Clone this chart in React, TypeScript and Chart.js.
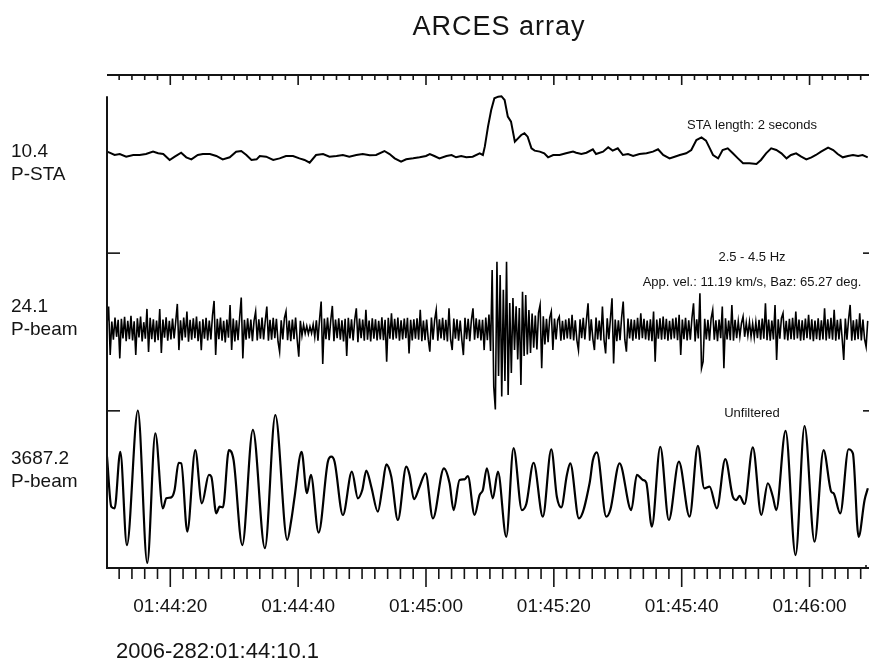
import { useEffect, useRef } from 'react';
import { Chart, registerables } from 'chart.js';

Chart.register(...registerables);

// ---- time axis (seconds after 01:44:00) ----
const T0 = 10.1;
const X_MAX = 129.3;
const MINOR_STEP = 2;
const majorTicks = [20, 40, 60, 80, 100, 120];
const majorLabels = ['01:44:20', '01:44:40', '01:45:00', '01:45:20', '01:45:40', '01:46:00'];
const startLabel = '2006-282:01:44:10.1';
const title = 'ARCES array';

// ---- trace labels ----
const traceScales = ['10.4', '24.1', '3687.2'];
const traceNames = ['P-STA', 'P-beam', 'P-beam'];
const annotations = ['STA length: 2 seconds', '2.5 - 4.5 Hz', 'App. vel.: 11.19 km/s, Baz: 65.27 deg.', 'Unfiltered'];

// ---- P-STA trace ----
const staTimes = [
  10.1, 10.5, 11.3, 12.1, 13.1, 14.2, 15.2, 16.2, 17.3, 18.1,
  18.9, 19.9, 20.7, 21.7, 22.5, 23.3, 24.3, 25.1, 26.2, 27.2,
  28.2, 29.3, 30.3, 31.1, 31.9, 32.7, 33.5, 34.0, 35.0, 36.1,
  37.1, 38.1, 39.2, 40.2, 41.0, 41.8, 42.8, 43.9, 44.9, 46.0,
  47.0, 48.0, 49.1, 50.1, 51.2, 52.2, 53.5, 54.3, 55.1, 56.1,
  56.9, 58.0, 59.0, 60.0, 60.6, 61.3, 62.1, 63.2, 64.0, 64.7,
  65.5, 66.3, 67.3, 68.4, 68.9, 69.2, 69.7, 70.2, 70.7, 71.3,
  71.8, 72.3, 72.8, 73.3, 73.9, 74.4, 74.9, 75.4, 75.9, 76.5,
  77.0, 77.8, 78.5, 79.1, 79.9, 80.9, 81.9, 83.0, 83.5, 84.3,
  85.1, 86.1, 86.6, 87.7, 88.5, 89.2, 90.0, 90.8, 91.6, 92.4,
  93.4, 94.5, 95.5, 96.3, 97.1, 98.1, 98.9, 99.7, 100.7, 101.5,
  102.3, 103.1, 103.8, 104.4, 104.9, 105.7, 106.4, 107.2, 108.0, 108.8,
  109.6, 110.6, 111.7, 112.4, 113.2, 114.0, 114.8, 115.6, 116.4, 117.1,
  117.9, 118.7, 119.5, 120.3, 121.0, 121.8, 122.9, 123.7, 124.4, 125.2,
  126.0, 126.8, 127.6, 128.3, 129.1,
];
const staValues = [
  2.48, 2.33, 2.00, 2.14, 1.76, 2.00, 2.00, 2.14, 2.48, 2.24,
  2.14, 1.29, 1.76, 2.33, 1.67, 1.38, 2.00, 2.14, 2.14, 1.86,
  1.38, 1.67, 2.48, 2.57, 2.00, 1.29, 1.38, 1.86, 1.76, 1.29,
  1.52, 1.86, 1.86, 1.52, 1.29, 0.90, 2.00, 2.14, 1.76, 1.86,
  2.00, 1.76, 2.00, 2.14, 1.95, 2.00, 2.57, 2.14, 1.52, 1.05,
  1.38, 1.52, 1.67, 1.86, 2.14, 1.86, 1.52, 1.86, 2.00, 1.67,
  1.86, 1.67, 1.76, 2.24, 2.00, 3.19, 6.05, 8.43, 10.10, 10.33,
  10.40, 9.86, 7.48, 6.76, 3.90, 4.38, 4.86, 5.10, 4.62, 2.95,
  2.62, 2.48, 2.24, 1.67, 2.00, 2.00, 2.24, 2.48, 2.33, 2.14,
  2.33, 2.81, 2.14, 2.48, 3.10, 2.62, 2.95, 2.00, 2.14, 1.86,
  2.14, 2.24, 2.48, 2.81, 2.00, 1.52, 1.76, 2.00, 2.24, 2.71,
  4.14, 4.52, 4.05, 2.95, 2.00, 1.52, 2.71, 2.95, 2.24, 1.52,
  0.81, 0.81, 0.71, 1.29, 2.24, 2.95, 2.71, 2.24, 1.52, 2.00,
  2.24, 1.76, 1.38, 1.67, 2.00, 2.48, 3.05, 2.71, 2.14, 1.67,
  1.86, 2.00, 1.86, 2.00, 1.67,
];

// ---- filtered P-beam (2.5-4.5 Hz), one value every BEAM_DT s from T0 ----
const BEAM_DT = 0.25;
const beamValues = [
  1.5, 6.9, -7.7, 2.4, -3.1, 3.6, -2.2, 2.9, -8.7, 3.2, -2.7, 3.8, -3.5, 2.6, -2.9, 4.1, -3.3, 2.5, -7.7, 3.4,
  -2.4, 3.9, -3.6, 2.2, -2.8, 6.2, -6.8, 3.5, -2.9, 3.1, -3.8, 2.7, -3.2, 6.2, -7.1, 3.0, -2.5, 3.7, -3.4, 2.6,
  -3.0, 3.3, -2.7, 2.4, 7.7, -6.2, 2.8, -3.3, 3.6, -2.4, 5.4, -3.7, 2.9, -3.1, 3.4, -2.6, 3.9, -3.5, 2.5, -6.2,
  3.1, -2.8, 3.5, -3.3, 2.7, -3.0, 4.2, 8.6, -7.7, 3.2, -2.9, 3.6, -3.4, 2.6, -3.9, 3.0, -2.5, 7.4, -6.2, 3.3,
  -3.6, 2.8, -3.2, 3.7, 9.6, -8.7, 2.9, -3.1, 3.4, -2.7, 3.0, -3.5, 2.6, 5.4, -3.3, 3.1, -2.8, 3.6, -3.0, 2.5,
  6.9, -3.4, 2.9, -3.1, 3.5, -2.6, 3.2, -3.6, -6.7, 2.8, -3.0, 3.4, 5.4, -3.2, 2.7, -3.5, 3.0, -2.9, 3.6, -3.1,
  -8.2, 2.6, -1.8, 1.4, -1.2, 1.0, -1.3, 0.9, -1.1, 1.5, -2.2, 2.8, -3.4, 3.1, 8.4, -10.4, 3.3, -2.9, 3.6, -3.2,
  2.7, 7.1, -3.5, 3.0, -2.6, 3.4, -3.1, 2.8, -3.6, 3.2, -8.0, 3.5, -2.7, 3.1, -3.3, 2.9, 6.4, -3.8, 3.3, -2.6,
  3.0, -3.4, 5.9, -3.1, 2.7, -3.6, 3.4, -2.8, 3.1, -3.3, 2.6, -3.0, 3.7, -3.2, 2.9, -9.7, 3.5, -2.8, 4.9, -3.1,
  3.2, -2.7, 3.6, -3.4, 2.8, -3.0, 3.3, -2.6, 3.5, -7.2, 2.9, -3.3, 3.1, -2.8, 3.4, -3.1, 5.9, -3.5, 2.7, -3.2,
  3.0, -2.9, -6.7, 3.6, -3.1, 2.8, 5.9, -3.4, 3.1, -2.7, 3.5, -3.2, 2.9, -3.6, 6.4, -3.0, -6.2, 3.3, -2.8, 3.1,
  -3.4, 2.7, -3.0, -7.7, 3.5, -2.9, 3.2, -3.5, 2.8, 6.4, -3.1, 3.4, -2.6, 3.0, -3.3, 2.9, -6.2, 3.6, -3.2, 4.5,
  -6.5, 17.9, -17.2, -24.1, 20.4, -14.0, 16.4, -20.2, 12.0, -15.5, 20.4, -19.7, 8.0, -13.1, 9.5, -6.2, 7.0, -9.0, 6.5, -16.7,
  11.4, -8.0, 10.4, -7.5, 5.9, -7.1, 4.8, -5.5, 4.2, -6.0, 5.0, 7.4, -11.7, 4.0, -4.5, 3.2, -3.8, 3.5, 5.4, -6.2,
  3.3, -3.0, 2.8, 3.9, -3.4, 2.6, -3.1, 3.0, -2.7, 3.4, -2.9, 4.4, -3.3, 2.8, -3.2, -6.2, 3.1, -2.6, 3.5, -3.0,
  2.9, 7.9, -3.4, 3.1, -2.8, -6.2, 3.6, -3.0, 2.7, -3.3, 6.9, -3.1, -7.2, 3.4, -2.9, 3.2, 9.4, -10.2, 3.0, -3.5,
  2.8, -3.2, 3.6, 8.4, -3.0, -6.7, 3.3, -2.7, 3.1, -3.4, 2.9, -2.8, 3.5, -3.1, 4.9, -2.6, 3.2, -3.0, 2.7, -3.3,
  3.1, -3.5, 5.4, -9.7, 3.0, -2.8, 3.4, -3.1, 3.9, -2.9, 3.2, -3.4, 2.6, -3.0, 3.3, -2.7, 3.6, -3.2, 4.4, -7.7,
  3.0, -2.9, 3.5, -3.3, 2.8, -3.1, 3.4, 7.9, -3.6, 3.1, -2.7, 10.9, -11.7, -9.7, 3.2, -3.0, 2.9, -3.4, 3.3, 5.9,
  -3.1, 2.8, -3.5, 3.0, -2.6, 6.9, -11.7, 3.4, -3.0, 2.7, -3.2, 7.4, -3.4, 2.9, -2.6, 2.4, -2.1, 1.9, 3.9, -2.2,
  2.0, -1.8, 2.3, -2.1, 1.7, -2.4, 2.2, -2.6, 2.9, -3.1, 3.3, -2.8, 7.9, -3.2, 3.0, -3.4, 2.7, -3.0, 7.4, -9.2,
  3.1, -2.8, 3.4, 4.9, -3.0, 2.6, -3.3, 3.2, -2.9, 3.5, -3.1, 5.4, -2.7, 3.0, -3.4, 2.8, -3.2, 3.3, -2.6, 4.4,
  -3.0, 3.1, -3.5, 2.7, -2.9, 3.4, -3.2, 2.8, -3.0, 6.4, -3.3, 3.1, -2.8, 3.5, -3.1, 5.9, -3.4, 2.9, -3.0, 3.2,
  -2.7, -9.2, 3.3, -3.1, 3.0, 7.4, -3.4, 2.8, -3.2, 3.1, -2.9, 4.9, -3.3, 3.0, -2.8, -5.2, 2.6,
];
const beamBandEdges = [23.0, -24.5];

// ---- unfiltered P-beam ----
const rawTimes = [
  10.10, 10.77, 11.29, 12.18, 13.21, 14.93, 16.40, 17.66, 18.84, 19.38,
  20.16, 20.67, 21.30, 21.72, 22.66, 23.91, 24.94, 26.04, 26.42, 27.20,
  27.71, 28.23, 29.17, 29.90, 31.26, 32.92, 34.80, 36.43, 38.30, 38.93,
  39.45, 40.54, 41.37, 41.99, 43.20, 44.65, 45.19, 45.70, 47.00, 48.41,
  49.35, 50.03, 50.66, 51.44, 52.47, 53.16, 53.79, 54.57, 55.60, 56.92,
  57.43, 58.11, 59.00, 59.94, 61.08, 62.80, 63.69, 64.32, 65.25, 66.04,
  66.55, 67.60, 68.38, 68.90, 69.52, 70.46, 71.25, 72.56, 73.70, 75.00,
  75.69, 76.83, 78.28, 79.60, 80.47, 81.16, 82.04, 82.57, 83.92, 85.59,
  86.11, 86.73, 88.20, 88.83, 90.28, 92.11, 92.99, 93.93, 94.46, 95.33,
  96.65, 97.99, 99.56, 101.23, 102.53, 103.53, 104.36, 105.50, 106.82, 108.00,
  108.54, 109.05, 109.83, 111.13, 112.45, 113.48, 114.26, 114.79, 116.25, 117.81,
  119.22, 120.78, 122.19, 123.40, 123.76, 124.80, 126.10, 126.78, 127.67, 128.61,
  129.12,
];
const rawValues = [
  1460, -950, -1030, 1700, -2800, 3687.2, -3660, 2590, -1030, -545,
  -500, -145, 1170, 1140, -2150, 1780, -790, 580, 500, -1270,
  -950, -980, 1780, 1300, -2800, 2750, -2950, 3470, -2550, -1590,
  -470, 1700, -300, 580, -2200, 1220, 1460, 1220, -1350, 740,
  -545, -145, 790, 15, -1190, -63, 1090, 500, -1590, 980,
  580, -590, 15, 660, -1510, 900, 180, -1110, 340, 370,
  530, -1350, -390, -145, 900, -545, 740, -2400, 1870, -1110,
  -820, 1170, -1430, 1820, -470, -980, 580, 1140, -1510, 180,
  1300, 1670, -1430, -1110, 1140, -1110, 580, 340, 210, -1910,
  1940, -1590, 1220, -1430, 1980, -63, 15, -1030, 1340, -470,
  -630, -430, -820, 1910, -1350, 180, -470, -1110, 2710, -3280,
  2940, -2640, 1780, -230, -300, -1270, 1820, 1620, -2400, -630,
  -63,
];

// ---- layout (pixels) ----
const W = 869;
const H = 661;
const AREA = { left: 107, top: 75, right: 869, bottom: 568 };
const FONT = '"Liberation Sans", Arial, Helvetica, sans-serif';
const INK = '#141414';

// Each trace gets its own y scale: zero line pixel and pixels per unit.
function bandScale(zeroPx: number, pxPerUnit: number) {
  const h = AREA.bottom - AREA.top;
  const min = -(AREA.bottom - zeroPx) / pxPerUnit;
  return { min, max: min + h / pxPerUnit };
}

const seismoFrame = {
  id: 'seismoFrame',
  afterDraw(chart: any) {
    const { ctx, chartArea: a, scales } = chart;
    const x = scales.x;
    const yA = scales.yA;
    const yB = scales.yB;
    ctx.save();
    ctx.strokeStyle = INK;
    ctx.lineCap = 'butt';
    const seg = (x1: number, y1: number, x2: number, y2: number) => {
      ctx.beginPath();
      ctx.moveTo(x1, y1);
      ctx.lineTo(x2, y2);
      ctx.stroke();
    };
    // axis lines
    ctx.lineWidth = 2;
    seg(a.left, a.top, a.right, a.top);
    seg(a.left - 1, a.bottom, a.right, a.bottom);
    const leftTop = yA.getPixelForValue(Math.max(...staValues));
    seg(a.left, leftTop, a.left, a.bottom);
    // time ticks
    ctx.lineWidth = 1.6;
    for (let t = Math.ceil(T0 / MINOR_STEP) * MINOR_STEP; t <= X_MAX; t += MINOR_STEP) {
      const px = x.getPixelForValue(t);
      const major = majorTicks.includes(t);
      seg(px, a.top, px, a.top + (major ? 10 : 5));
      seg(px, a.bottom, px, a.bottom + (major ? 19 : 11));
    }
    // band separators
    ctx.lineWidth = 1.6;
    beamBandEdges.forEach((v) => {
      const py = yB.getPixelForValue(v);
      seg(a.left, py, a.left + 13, py);
      seg(a.right - 6, py, a.right, py);
    });
    seg(a.right - 3, a.bottom - 3, a.right - 3, a.bottom);

    // texts
    ctx.fillStyle = INK;
    // title
    ctx.font = `27px ${FONT}`;
    ctx.textAlign = 'center';
    ctx.textBaseline = 'alphabetic';
    (ctx as any).letterSpacing = '1px';
    ctx.fillText(title, 499, 35);
    (ctx as any).letterSpacing = '0px';
    ctx.textBaseline = 'middle';
    // time labels
    ctx.font = `19px ${FONT}`;
    majorTicks.forEach((t, i) => {
      ctx.fillText(majorLabels[i], x.getPixelForValue(t), a.bottom + 39);
    });
    // start time
    ctx.textAlign = 'left';
    ctx.font = `22px ${FONT}`;
    ctx.fillText(startLabel, 116, 652);
    // trace labels
    ctx.font = `19px ${FONT}`;
    const labelY = [152, 306.5, 458.3];
    traceScales.forEach((s, i) => {
      ctx.fillText(s, 11, labelY[i]);
      ctx.fillText(traceNames[i], 11, labelY[i] + 23);
    });
    // annotations
    ctx.font = `13px ${FONT}`;
    ctx.textAlign = 'center';
    const annY = [125, 257.3, 282.7, 413.3];
    annotations.forEach((s, i) => ctx.fillText(s, 752, annY[i]));
    ctx.restore();
  },
};

export default function App() {
  const ref = useRef<HTMLCanvasElement>(null);
  useEffect(() => {
    document.body.style.margin = '0';
    document.body.style.background = '#ffffff';
    const canvas = ref.current;
    if (!canvas) return;
    const staData = staTimes.map((t, i) => ({ x: t, y: staValues[i] }));
    const beamData = beamValues.map((v, i) => ({ x: T0 + i * BEAM_DT, y: v }));
    const rawData = rawTimes.map((t, i) => ({ x: t, y: rawValues[i] }));
    const chart = new Chart(canvas, {
      type: 'line',
      data: {
        datasets: [
          { data: staData, yAxisID: 'yA', borderColor: '#000', borderWidth: 2, pointRadius: 0, tension: 0 },
          { data: beamData, yAxisID: 'yB', borderColor: '#000', borderWidth: 1.6, pointRadius: 0, tension: 0 },
          { data: rawData, yAxisID: 'yC', borderColor: '#000', borderWidth: 2.2, pointRadius: 0, cubicInterpolationMode: 'monotone' },
        ] as any,
      },
      options: {
        animation: false,
        responsive: false,
        events: [],
        layout: { padding: { left: AREA.left, top: AREA.top, right: W - AREA.right, bottom: H - AREA.bottom } },
        plugins: { legend: { display: false }, tooltip: { enabled: false }, title: { display: false } },
        scales: {
          x: { type: 'linear', min: T0, max: X_MAX, display: false },
          yA: { type: 'linear', ...bandScale(169, 7), display: false },
          yB: { type: 'linear', ...bandScale(329.5, 3.32), display: false },
          yC: { type: 'linear', ...bandScale(487, 1 / 48.2), display: false },
        },
      },
      plugins: [seismoFrame],
    });
    return () => chart.destroy();
  }, []);
  return <canvas ref={ref} width={W} height={H} style={{ display: 'block' }} />;
}
